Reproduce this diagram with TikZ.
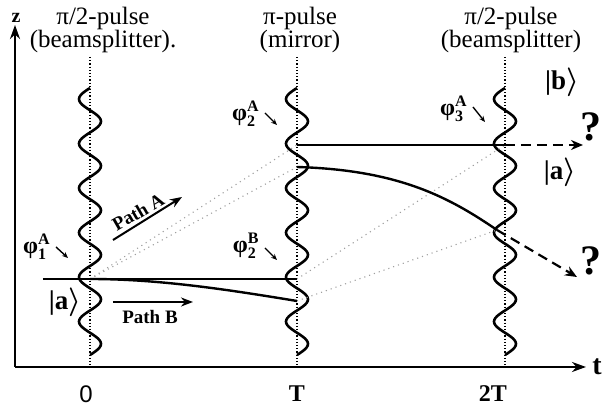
\documentclass[tikz,border=0pt]{standalone}
\usepackage{amsmath}
\usepackage{fontspec}
\setmainfont{Liberation Serif}
\setsansfont{Liberation Sans}
\usetikzlibrary{arrows.meta}

\begin{document}
\begin{tikzpicture}[
    x=0.5pt, y=-0.5pt,
    axis/.style={line width=1.3pt, -{Stealth[length=7pt,width=5pt]}},
    pulse/.style={line width=1.3pt},
    marker/.style={densely dotted, line width=0.6pt},
    track/.style={line width=1.2pt},
    ghost/.style={gray!75, dotted, line width=0.55pt},
    outarrow/.style={line width=1.1pt, dash pattern=on 5pt off 3pt, -{Stealth[length=6pt,width=5pt]}},
    hint/.style={line width=0.7pt, -{Stealth[length=3pt,width=2.5pt]}},
    pulselabel/.style={font=\fontsize{12.5}{11.5}\selectfont, align=center, inner sep=0pt},
    phase/.style={font=\fontsize{12}{12}\selectfont\bfseries, inner sep=0pt},
    ket/.style={font=\fontsize{13.5}{14}\selectfont\bfseries\boldmath, inner sep=0pt},
    pathlabel/.style={font=\fontsize{9.5}{10}\selectfont\bfseries, inner sep=0pt},
    tick/.style={font=\fontsize{12}{13}\selectfont\bfseries, inner sep=0pt},
    outcome/.style={font=\fontsize{21}{23}\selectfont\bfseries, inner sep=0pt}
]
\useasboundingbox (0,0) rectangle (602,406);

% Axes
\coordinate (origin) at (15,367);
\draw[axis] (origin) -- (15,25);
\draw[axis] (origin) -- (586,367);
\node[font=\fontsize{10}{11}\selectfont\bfseries, inner sep=0pt] (zlabel) at (16,18) {z};
\node[font=\fontsize{14}{15}\selectfont\bfseries, inner sep=0pt] (tlabel) at (597,367) {t};

% Pulses (time markers and wave packets)
\foreach \px in {90,297,505}{
  \draw[marker] (\px,57) -- (\px,367);
  \draw[pulse] plot[domain=0:6, samples=145, smooth] ({\px-11*sin(\x*360)}, {88+\x*44.5});
}

% Pulse labels
\node[pulselabel] (bs1) at (103,30) {π/2-pulse\\(beamsplitter).};
\node[pulselabel] (mirror) at (300,30) {π-pulse\\(mirror)};
\node[pulselabel] (bs2) at (511,30) {π/2-pulse\\(beamsplitter)};

% Time labels
\node[font=\fontsize{12}{13}\selectfont\sffamily, inner sep=0pt] (t0) at (86,394) {0};
\node[tick] (t1) at (297,394) {T};
\node[tick] (t2) at (493,394) {2T};

% Key points of the interferometer
\coordinate (start) at (43,279);
\coordinate (split) at (90,279);
\coordinate (mirrorA) at (297,145);
\coordinate (mirrorAg) at (297,167);
\coordinate (mirrorB) at (297,279);
\coordinate (mirrorBg) at (297,301);
\coordinate (exitA) at (505,145);
\coordinate (exitB) at (497,230);
\coordinate (outA) at (583,145);
\coordinate (outB) at (577,277);

% Unperturbed (straight) trajectories
\draw[ghost] (split) -- (mirrorA);
\draw[ghost] (split) -- (mirrorAg);
\draw[ghost] (mirrorB) -- (exitA);
\draw[ghost] (mirrorBg) -- (exitB);

% Actual trajectories
\draw[track] (start) -- (mirrorB);
\draw[track] (split) .. controls (160,279) and (230,290) .. (mirrorBg);
\draw[track] (mirrorA) -- (exitA);
\draw[track] (mirrorAg) .. controls (400,170) and (450,198) .. (exitB);
\draw[outarrow] (exitA) -- (outA);
\draw[outarrow] (exitB) -- (outB);

% Path labels
\coordinate (pathAtail) at (113,240);
\coordinate (pathAhead) at (182,197);
\draw[line width=1pt, -{Stealth[length=6pt,width=4.5pt]}] (pathAtail) -- (pathAhead);
\node[pathlabel, rotate=30] (pathA) at (138,212) {Path A};
\coordinate (pathBtail) at (113,302);
\coordinate (pathBhead) at (193,302);
\draw[line width=1pt, -{Stealth[length=6pt,width=4.5pt]}] (pathBtail) -- (pathBhead);
\node[pathlabel] (pathB) at (150,317) {Path B};

% Phases
\node[phase, anchor=east] (phiA1) at (51,247) {φ$^{\textbf{A}}_{\textbf{1}}$};
\draw[hint] (56,247) -- (68,258);
\node[phase, anchor=east] (phiA2) at (260,114) {φ$^{\textbf{A}}_{\textbf{2}}$};
\draw[hint] (265,113) -- (277,125);
\node[phase, anchor=east] (phiA3) at (468,109) {φ$^{\textbf{A}}_{\textbf{3}}$};
\draw[hint] (473,107) -- (485,122);
\node[phase, anchor=east] (phiB2) at (260,246) {φ$^{\textbf{B}}_{\textbf{2}}$};
\draw[hint] (265,248) -- (277,260);

% States
\node[ket] (ketA) at (65,302) {|a$\rangle$};
\node[ket] (ketAout) at (560,172) {|a$\rangle$};
\node[ket] (ketB) at (562,82) {|b$\rangle$};

% Outcomes
\node[outcome] (qA) at (591,127) {?};
\node[outcome] (qB) at (591,261) {?};

\end{tikzpicture}
\end{document}
